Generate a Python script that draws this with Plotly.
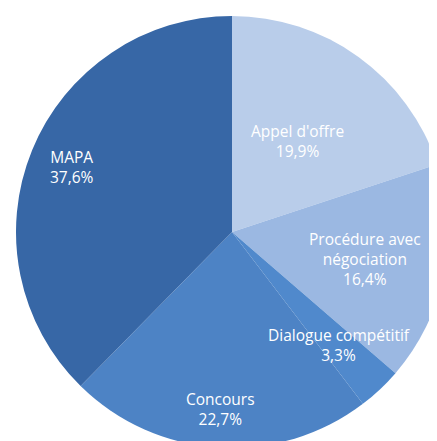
import math
import plotly.graph_objects as go

procedures = [
    "Appel d'offre",
    "Procédure avec<br>négociation",
    "Dialogue compétitif",
    "Concours",
    "MAPA",
]
parts = [19.9, 16.4, 3.3, 22.7, 37.6]
couleurs = ["#b9cdea", "#9bb8e2", "#5089cc", "#4d83c5", "#3767a6"]

# distance des étiquettes au centre (fraction du rayon), comme dans Excel
dist_etiquettes = [0.52, 0.63, 0.72, 0.82, 0.80]

LARG, HAUT = 440, 440
dom_x = [8 / LARG, 1]
dom_y = [0, 1 - 8 / HAUT]

fig = go.Figure(
    go.Pie(
        labels=procedures,
        values=parts,
        sort=False,
        direction="clockwise",
        rotation=0,
        marker=dict(colors=couleurs, line=dict(width=0)),
        textinfo="none",
        domain=dict(x=dom_x, y=dom_y),
        hoverinfo="label+value",
    )
)

# étiquettes placées à l'angle médian de chaque part
rayon_px = min((dom_x[1] - dom_x[0]) * LARG, (dom_y[1] - dom_y[0]) * HAUT) / 2
cx, cy = sum(dom_x) / 2, sum(dom_y) / 2
total = sum(parts)
cumul = 0
for nom, val, k in zip(procedures, parts, dist_etiquettes):
    angle = 2 * math.pi * (cumul + val / 2) / total
    cumul += val
    fig.add_annotation(
        x=cx + k * rayon_px * math.sin(angle) / LARG,
        y=cy + k * rayon_px * math.cos(angle) / HAUT,
        xref="paper",
        yref="paper",
        xanchor="center",
        yanchor="middle",
        text=f"{nom}<br>{val:.1f}%".replace(".", ","),
        showarrow=False,
        font=dict(color="white", size=15.5, family="Open Sans"),
    )

fig.update_layout(
    width=LARG,
    height=HAUT,
    showlegend=False,
    paper_bgcolor="white",
    margin=dict(t=0, l=0, r=0, b=0),
)
fig.write_html("out.html")
